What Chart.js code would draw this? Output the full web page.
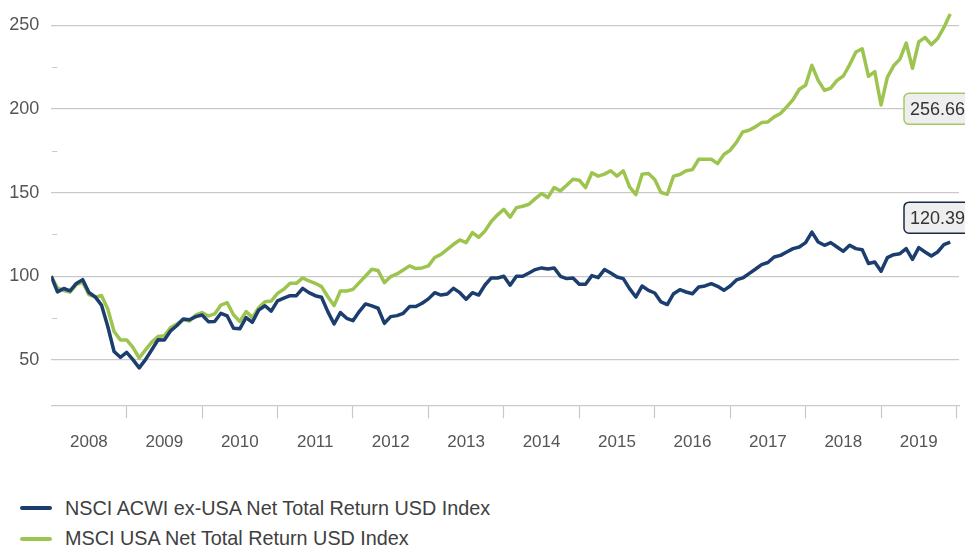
<!DOCTYPE html>
<html>
<head>
<meta charset="utf-8">
<script src="https://cdn.jsdelivr.net/npm/chart.js@4.4.1/dist/chart.umd.min.js"></script>
<style>
  body { margin: 0; background: #ffffff; font-family: "Liberation Sans", Arial, sans-serif; }
  #wrap { position: relative; width: 965px; height: 470px; }
  #legend { position: absolute; left: 20px; top: 493px; color: #404040; font-size: 19.8px; }
  .row { height: 30.5px; display: flex; align-items: center; }
  .swatch { width: 32px; height: 4px; border-radius: 2px; margin-right: 13px; }
</style>
</head>
<body>
<div id="wrap"><canvas id="myChart"></canvas></div>
<div id="legend"></div>
<script>
// monthly index levels, Dec 2007 = 100
const yearLabels = ['2008','2009','2010','2011','2012','2013','2014','2015','2016','2017','2018','2019'];
const yTicks = [50, 75, 100, 125, 150, 175, 200, 225, 250];

const acwiExUsa = [
  100, 90.7, 92.7, 91.3, 95.7, 98, 90.3, 87.7, 82.8, 70, 55.1, 51.6,
  54.5, 50.2, 45.3, 50.2, 56.1, 62.1, 62, 67.4, 70.6, 74.5, 74, 75.9,
  76.9, 72.9, 73, 77.9, 76.3, 69, 68.6, 75.3, 72.5, 79.8, 82.4, 79.2,
  85.3, 86.9, 88.4, 88.4, 92.8, 90.2, 88.4, 87.5, 78.9, 71.5, 78.3, 74.9,
  73.5, 78.9, 83.5, 82.3, 80.9, 71.9, 75.9, 76.5, 77.9, 81.9, 81.9, 83.9,
  86.5, 90.2, 88.8, 89.4, 92.8, 90.2, 86.3, 90.2, 88.8, 94.8, 99, 99,
  100, 94.7, 100, 100, 102, 104, 105, 104.4, 105, 100, 98.6, 99,
  95.2, 95.2, 100.4, 99.2, 104, 102, 99.6, 98.6, 92.6, 87.6, 94.2, 91.6,
  90, 84.7, 83.1, 89.6, 92, 90.6, 89.6, 93.6, 94.2, 95.6, 94, 91.6,
  94.2, 97.8, 99, 101.6, 104.2, 107, 108.2, 111.5, 112.5, 114.5, 116.5, 117.5,
  120.1, 126.4, 120.5, 118.5, 120.1, 117.5, 114.9, 118.5, 116.5, 115.9, 107.6, 108.5,
  103, 111.1, 112.9, 113.5, 116.5, 110.1, 117.1, 114.5, 112.1, 114.5, 118.9, 120.39
];

const usa = [
  100, 93, 91.5, 90.5, 95, 96.5, 89, 87.5, 88.5, 80.5, 67, 62,
  62, 57.5, 51.2, 56, 60.7, 64, 64.5, 69.4, 71.5, 74, 73.3, 76.9,
  78.3, 76.3, 77.5, 82.8, 84.2, 77, 73, 78.9, 75.3, 81.2, 84.8, 85.2,
  89.8, 92.2, 95.8, 95.8, 99, 97.2, 95.8, 93.8, 87.8, 82.5, 91.2, 91.2,
  92.2, 96.2, 100.2, 104.2, 103.4, 96.2, 99.8, 101.4, 103.8, 106.2, 104.6, 105,
  106.2, 111.2, 113.1, 116.1, 119.1, 121.7, 120.1, 126.1, 123.3, 127.1, 132.7, 136.7,
  140, 135.3, 141, 141.8, 143, 146.4, 149.4, 147, 153, 151, 154.4, 158,
  157.4, 153, 161.8, 159.8, 161, 163, 159.8, 163, 153.4, 148.8, 161, 161.4,
  157.8, 150, 149, 159.8, 160.8, 163, 163.7, 169.9, 169.9, 169.9, 167.3, 172.7,
  175.3, 180, 186.2, 187.2, 189.2, 191.8, 192.2, 195.2, 197.2, 201.2, 205.5, 211.7,
  214.1, 226, 217, 211, 212.4, 217, 219.6, 226.3, 233.9, 235.9, 219.4, 222.2,
  202.3, 218.8, 225.7, 229.7, 239.3, 224.2, 240, 242.6, 238.3, 242, 248.6, 256.66
];

const seriesNames = ['NSCI ACWI ex-USA Net Total Return USD Index', 'MSCI USA Net Total Return USD Index'];
const seriesColors = ['#1b3e6f', '#9dc44f'];
const labelBorders = ['#1b2a44', '#a6c964'];
const labelAt = [135, 200]; // value on the y scale where each end label box sits

const GRID = '#c9c9c9';
const TEXT = '#555555';
const FONT = "'Liberation Sans', Arial, sans-serif";

function toPoints(arr) {
  return arr.map((v, i) => ({ x: i, y: v }));
}

// small dashes at the minor y ticks, and the boxed end values
const extras = {
  id: 'extras',
  afterDatasetsDraw(chart) {
    const ctx = chart.ctx;
    const area = chart.chartArea;
    const ys = chart.scales.y;
    ctx.save();
    ctx.strokeStyle = GRID;
    ctx.lineWidth = 1;
    yTicks.filter(v => v % 50 !== 0).forEach(v => {
      const py = Math.round(ys.getPixelForValue(v)) + 0.5;
      ctx.beginPath();
      ctx.moveTo(area.left + 1, py);
      ctx.lineTo(area.left + 6, py);
      ctx.stroke();
    });
    chart.data.datasets.forEach((ds, k) => {
      const last = ds.data[ds.data.length - 1].y;
      const cy = ys.getPixelForValue(labelAt[k]);
      const bx = area.right - 55, bw = 80, bh = 31;
      ctx.beginPath();
      ctx.roundRect(bx, cy - bh / 2, bw, bh, 5);
      ctx.fillStyle = '#eeeeee';
      ctx.fill();
      ctx.lineWidth = 1.5;
      ctx.strokeStyle = labelBorders[k];
      ctx.stroke();
      ctx.fillStyle = '#333333';
      ctx.font = '18px ' + FONT;
      ctx.textBaseline = 'middle';
      ctx.textAlign = 'left';
      ctx.fillText(last.toFixed(2), bx + 6, cy + 1);
    });
    ctx.restore();
  }
};

const data = {
  datasets: [
    {
      label: seriesNames[0],
      data: toPoints(acwiExUsa),
      borderColor: seriesColors[0],
      borderWidth: 3.5,
      pointRadius: 0,
      borderJoinStyle: 'round',
      tension: 0
    },
    {
      label: seriesNames[1],
      data: toPoints(usa),
      borderColor: seriesColors[1],
      borderWidth: 3.5,
      pointRadius: 0,
      borderJoinStyle: 'round',
      tension: 0
    }
  ]
};

const config = {
  type: 'line',
  data: data,
  plugins: [extras],
  options: {
    responsive: true,
    maintainAspectRatio: false,
    animation: false,
    layout: { padding: { left: 0, right: 6, top: 0, bottom: 0 } },
    plugins: { legend: { display: false }, tooltip: { enabled: false } },
    scales: {
      x: {
        type: 'linear',
        min: 0,
        max: 144.4,
        afterBuildTicks: (scale) => {
          const t = [];
          for (let m = 6; m <= 144; m += 6) t.push({ value: m });
          scale.ticks = t;
        },
        afterFit: (scale) => {
          scale.height = 64.3;
          scale.paddingLeft = 0;
          scale.paddingRight = 0;
        },
        border: { display: true, color: GRID, width: 1.2 },
        grid: {
          drawOnChartArea: false,
          drawTicks: true,
          tickLength: 12.6,
          tickWidth: 1.2,
          tickColor: (c) => (c.tick && c.tick.value % 12 === 0) ? GRID : 'rgba(0,0,0,0)'
        },
        ticks: {
          autoSkip: false,
          maxRotation: 0,
          padding: 14,
          color: TEXT,
          font: { family: FONT, size: 17 },
          callback: (v) => (v % 12 === 6) ? yearLabels[(v - 6) / 12] : ''
        }
      },
      y: {
        min: 22.7,
        max: 265,
        afterBuildTicks: (scale) => { scale.ticks = yTicks.map(v => ({ value: v })); },
        afterFit: (scale) => {
          scale.width = 51.2;
          scale.paddingTop = 0;
          scale.paddingBottom = 0;
        },
        border: { display: false },
        grid: {
          drawTicks: false,
          lineWidth: 1.2,
          color: (c) => (c.tick && c.tick.value % 50 === 0) ? GRID : 'rgba(0,0,0,0)'
        },
        ticks: {
          padding: 12,
          color: TEXT,
          font: { family: FONT, size: 18 },
          callback: (v) => (v % 50 === 0) ? String(v) : ''
        }
      }
    }
  }
};

const myChart = new Chart(document.getElementById('myChart'), config);

// legend rows under the chart
const legend = document.getElementById('legend');
myChart.data.datasets.forEach((ds) => {
  const row = document.createElement('div');
  row.className = 'row';
  const sw = document.createElement('span');
  sw.className = 'swatch';
  sw.style.background = ds.borderColor;
  const tx = document.createElement('span');
  tx.textContent = ds.label;
  row.appendChild(sw);
  row.appendChild(tx);
  legend.appendChild(row);
});
</script>
</body>
</html>
